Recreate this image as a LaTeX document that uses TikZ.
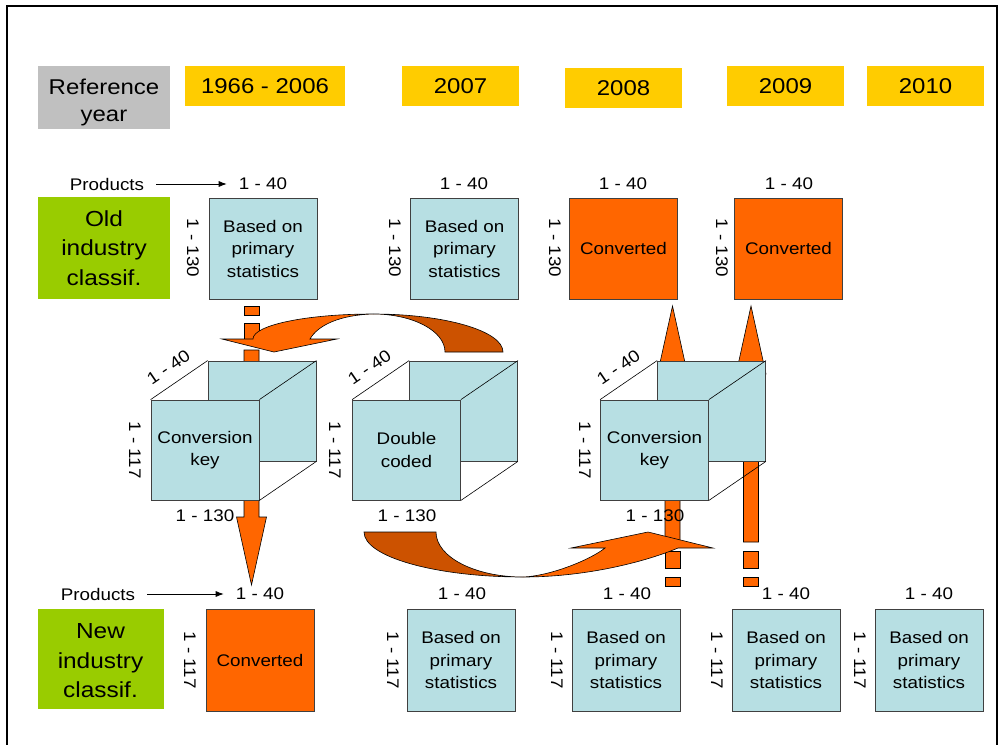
\documentclass[tikz,border=0pt]{standalone}
\usepackage{fontspec}
\setmainfont{Liberation Sans}[FakeStretch=1.12]
\usetikzlibrary{arrows.meta,calc}
\definecolor{cgray}{HTML}{C0C0C0}
\definecolor{cyel}{HTML}{FFCC00}
\definecolor{cgreen}{HTML}{99CC00}
\definecolor{cblue}{HTML}{B7DFE3}
\definecolor{corange}{HTML}{FF6600}
\definecolor{cdark}{HTML}{CC5200}
\definecolor{cedge}{HTML}{404040}
\newcommand\fsn{\fontsize{16.8}{22.5}\selectfont}
\newcommand\fsh{\fontsize{21.4}{27}\selectfont}
\newcommand\fsr{\fontsize{21.8}{29.5}\selectfont}
\begin{document}
\begin{tikzpicture}[x=1pt,y=-1pt,
  hdrbox/.style={inner sep=0pt, align=center, font=\fsh},
  rowlab/.style={fill=cgreen, inner sep=0pt, align=center, font=\fsr},
  rowtxt/.style={inner sep=0pt, align=center, font=\fsr},
  cell/.style={draw=cedge, line width=0.8, inner sep=0pt, align=center, font=\fsn, minimum width=108, minimum height=101},
  bluecell/.style={cell, fill=cblue},
  orcell/.style={cell, fill=corange},
  lab/.style={inner sep=0pt, font=\fsn},
  face/.style={draw=cedge, line width=0.8, fill=cblue},
  cubeedge/.style={draw=black, line width=0.6},
  prodarrow/.style={-{Latex[length=8,width=6]}, line width=0.8},
  orng/.style={fill=corange, draw=black, line width=0.6},
  orngdark/.style={fill=cdark, draw=black, line width=0.6}
]
\useasboundingbox (0,0) rectangle (1000,744);
\fill[white] (0,0) rectangle (1000,744);
% frame
\draw[line width=2] (7,746) -- (7,6) -- (997,6) -- (997,746);

% header
\node[fill=cgray, inner sep=0pt, minimum width=132, minimum height=63] (ref) at (104,97.5) {};
\node[hdrbox] (reftxt) at (104,102) {Reference\\year};
\node[hdrbox, fill=cyel, minimum width=160, minimum height=40] (y1) at (265,86) {1966 - 2006};
\node[hdrbox, fill=cyel, minimum width=117, minimum height=40] (y2) at (460.5,86) {2007};
\node[fill=cyel, inner sep=0pt, minimum width=117, minimum height=40] (y3) at (623.5,87.5) {};
\node[hdrbox] (y3txt) at (623.5,88.5) {2008};
\node[hdrbox, fill=cyel, minimum width=117, minimum height=40] (y4) at (785.5,86) {2009};
\node[hdrbox, fill=cyel, minimum width=117, minimum height=40] (y5) at (925.5,86) {2010};

% row labels
\node[rowlab, minimum width=132, minimum height=102] (old) at (104,248) {Old\\industry\\classif.};
\node[fill=cgreen, inner sep=0pt, minimum width=126, minimum height=100] (new) at (100.5,659) {};
\node[rowtxt] (newtxt) at (100.5,661) {New\\industry\\classif.};

% top row
\node[bluecell] (t1) at (263,248.5) {Based on\\primary\\statistics};
\node[bluecell] (t2) at (464.5,248.5) {Based on\\primary\\statistics};
\node[orcell] (t3) at (623.5,248.5) {Converted};
\node[orcell] (t4) at (788.5,248.5) {Converted};
\node[lab] (pt) at (107,184) {Products};
\node[lab] (t1c) at (263,184) {1 - 40};
\node[lab] (t2c) at (464,184) {1 - 40};
\node[lab] (t3c) at (623,184) {1 - 40};
\node[lab] (t4c) at (789,184) {1 - 40};
\node[lab, rotate=-90] (t1r) at (193,248) {1 - 130};
\node[lab, rotate=-90] (t2r) at (395,248) {1 - 130};
\node[lab, rotate=-90] (t3r) at (555,248) {1 - 130};
\node[lab, rotate=-90] (t4r) at (722,248) {1 - 130};
\draw[prodarrow, shorten <=12, shorten >=12] (pt.east) -- (t1c.west);

% bottom row
\node[orcell, minimum height=102] (b1) at (260,660) {Converted};
\node[bluecell, minimum height=102] (b2) at (461,660) {Based on\\primary\\statistics};
\node[bluecell, minimum height=102] (b3) at (626,660) {Based on\\primary\\statistics};
\node[bluecell, minimum height=102] (b4) at (786,660) {Based on\\primary\\statistics};
\node[bluecell, minimum height=102] (b5) at (929,660) {Based on\\primary\\statistics};
\node[lab] (pb) at (98,594) {Products};
\node[lab] (b1c) at (260,594) {1 - 40};
\node[lab] (b2c) at (462,594) {1 - 40};
\node[lab] (b3c) at (627,594) {1 - 40};
\node[lab] (b4c) at (786,594) {1 - 40};
\node[lab] (b5c) at (929,594) {1 - 40};
\node[lab, rotate=-90] (b1r) at (190,660) {1 - 117};
\node[lab, rotate=-90] (b2r) at (393,660) {1 - 117};
\node[lab, rotate=-90] (b3r) at (557,660) {1 - 117};
\node[lab, rotate=-90] (b4r) at (717,660) {1 - 117};
\node[lab, rotate=-90] (b5r) at (860,660) {1 - 117};
\draw[prodarrow, shorten <=12, shorten >=12] (pb.east) -- (b1c.west);

% striped vertical arrows
\draw[orng] (244,306) rectangle (259,315);
\draw[orng] (244,323) rectangle (259,341);
\draw[orng] (244,350) -- (259,350) -- (259,517) -- (266.5,517) -- (251.5,585) -- (236.5,517) -- (244,517) -- cycle;

\draw[orng] (665,586) rectangle (680,577);
\draw[orng] (665,568) rectangle (680,551);
\draw[orng] (665,542) -- (680,542) -- (680,374) -- (687.5,374) -- (672.5,306) -- (657.5,374) -- (665,374) -- cycle;

\draw[orng] (743.5,586) rectangle (758.5,577);
\draw[orng] (743.5,568) rectangle (758.5,551);
\draw[orng] (743.5,542) -- (758.5,542) -- (758.5,374) -- (766,374) -- (751,306) -- (736,374) -- (743.5,374) -- cycle;

% cubes
\draw[face] (208,361) rectangle (316,461);
\node[bluecell, minimum height=100] (c1) at (205,450) {Conversion\\key};
\draw[cubeedge] (c1.north west) -- ++(57,-39) (c1.north east) -- ++(57,-39) (c1.south east) -- ++(57,-39);

\draw[face] (409.5,361) rectangle (517.5,461);
\node[bluecell, minimum height=100] (c2) at (406.5,450) {Double\\coded};
\draw[cubeedge] (c2.north west) -- ++(57,-39) (c2.north east) -- ++(57,-39) (c2.south east) -- ++(57,-39);

\draw[face] (657.5,361) rectangle (765.5,461);
\node[bluecell, minimum height=100] (c3) at (654.5,450) {Conversion\\key};
\draw[cubeedge] (c3.north west) -- ++(57,-39) (c3.north east) -- ++(57,-39) (c3.south east) -- ++(57,-39);

% curved arrows (top)
\draw[orngdark] (373,314) .. controls (445,314) and (503,331) .. (503,352) -- (445,352) .. controls (445,331) and (413,314) .. (373,314) -- cycle;
\draw[orng] (373,314) .. controls (307,314) and (253,325) .. (253,339) -- (222,339) -- (274,352) -- (337,339) -- (310,339) .. controls (318,325) and (340,315) .. (373,314) -- cycle;

% curved arrows (bottom)
\draw[orngdark] (364,532) -- (436,532) .. controls (436,557) and (475,577) .. (523,577) .. controls (436,577) and (364,557) .. (364,532) -- cycle;
\draw[orng] (523,577) .. controls (590,577) and (650,560) .. (678,548) -- (713,548) -- (648,532) -- (571,548) -- (605,548) .. controls (590,560) and (550,576) .. (523,577) -- cycle;

% cube labels
\node[lab, rotate=34.4] (c1d) at (168.5,367) {1 - 40};
\node[lab, rotate=34.4] (c2d) at (369.5,367) {1 - 40};
\node[lab, rotate=34.4] (c3d) at (618.5,367) {1 - 40};
\node[lab, rotate=-90] (c1r) at (135,450) {1 - 117};
\node[lab, rotate=-90] (c2r) at (335,450) {1 - 117};
\node[lab, rotate=-90] (c3r) at (585,450) {1 - 117};
\node[lab] (c1b) at (205,516) {1 - 130};
\node[lab] (c2b) at (407,516) {1 - 130};
\node[lab] (c3b) at (655,516) {1 - 130};
\end{tikzpicture}
\end{document}
